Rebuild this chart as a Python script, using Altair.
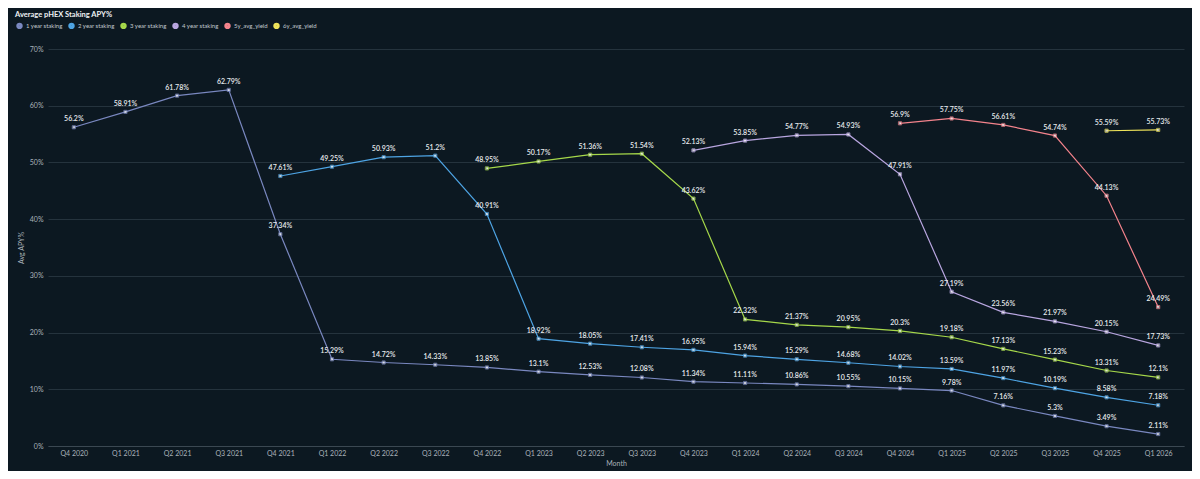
import altair as alt
import pandas as pd

quarters = [
    "Q4 2020", "Q1 2021", "Q2 2021", "Q3 2021", "Q4 2021", "Q1 2022", "Q2 2022",
    "Q3 2022", "Q4 2022", "Q1 2023", "Q2 2023", "Q3 2023", "Q4 2023", "Q1 2024",
    "Q2 2024", "Q3 2024", "Q4 2024", "Q1 2025", "Q2 2025", "Q3 2025", "Q4 2025",
    "Q1 2026",
]

series_names = [
    "1 year staking", "2 year staking", "3 year staking",
    "4 year staking", "5y_avg_yield", "6y_avg_yield",
]
series_colors = ["#7a88c0", "#4ea4e4", "#a6d84a", "#b9a6e0", "#f4838c", "#eee35a"]

# values per quarter, None where the series has no data yet
apy_1y = [56.2, 58.91, 61.78, 62.79, 37.34, 15.29, 14.72, 14.33, 13.85, 13.1, 12.53,
          12.08, 11.34, 11.11, 10.86, 10.55, 10.15, 9.78, 7.16, 5.3, 3.49, 2.11]
apy_2y = [None] * 4 + [47.61, 49.25, 50.93, 51.2, 40.91, 18.92, 18.05, 17.41, 16.95,
                       15.94, 15.29, 14.68, 14.02, 13.59, 11.97, 10.19, 8.58, 7.18]
apy_3y = [None] * 8 + [48.95, 50.17, 51.36, 51.54, 43.62, 22.32, 21.37, 20.95, 20.3,
                       19.18, 17.13, 15.23, 13.31, 12.1]
apy_4y = [None] * 12 + [52.13, 53.85, 54.77, 54.93, 47.91, 27.19, 23.56, 21.97, 20.15, 17.73]
apy_5y = [None] * 16 + [56.9, 57.75, 56.61, 54.74, 44.13, 24.49]
apy_6y = [None] * 20 + [55.59, 55.73]

rows = []
for name, vals in zip(series_names, [apy_1y, apy_2y, apy_3y, apy_4y, apy_5y, apy_6y]):
    for q, v in zip(quarters, vals):
        if v is not None:
            rows.append({"Month": q, "series": name, "apy": v})
df = pd.DataFrame(rows)

BG = "#0c1821"
FONT = "Lato"

scale = alt.Scale(domain=series_names, range=series_colors)
x_enc = alt.X(
    "Month:N", sort=quarters, title="Month",
    scale=alt.Scale(padding=0.5),
    axis=alt.Axis(labelAngle=0, grid=False, ticks=False, labelPadding=3,
                  domainColor="#3b4852", titlePadding=3),
)
y_enc = alt.Y(
    "apy:Q", title="Avg APY%",
    scale=alt.Scale(domain=[0, 70]),
    axis=alt.Axis(values=[0, 10, 20, 30, 40, 50, 60, 70], labelExpr="datum.value + '%'",
                  domain=False, ticks=False, labelPadding=5, titleX=-24,
                  gridColor="#25333d"),
)

base = alt.Chart(df).encode(x=x_enc, y=y_enc)

lines = base.mark_line(strokeWidth=1.2).encode(
    color=alt.Color(
        "series:N", scale=scale, sort=series_names,
        legend=alt.Legend(title=None, orient="none", direction="horizontal",
                          legendX=-32, legendY=-27, symbolType="circle",
                          symbolSize=12, symbolStrokeWidth=3, columnPadding=0,
                          labelOffset=3, labelFontSize=6, labelColor="#c3c9cf",
                          labelFont=FONT, symbolOffset=0),
    ),
    detail="series:N",
)

points = base.mark_point(shape="square", filled=True, fill="white", size=10,
                         strokeWidth=1).encode(
    stroke=alt.Stroke("series:N", scale=scale, legend=None),
)

labels = base.transform_calculate(label="datum.apy + '%'").mark_text(
    dy=-8, fontSize=7, font=FONT, fontWeight=600, color="#e8ebee",
).encode(text="label:N")

chart = (
    alt.layer(lines, points, labels)
    .properties(
        width=1136, height=397,
        padding={"left": 40, "top": 41, "right": 8, "bottom": 25},
        autosize=alt.AutoSizeParams(type="none"),
        background=BG,
        title=alt.TitleParams("Average pHEX Staking APY%", anchor="start", frame="group",
                              dx=-33, fontSize=7.5, font=FONT, fontWeight="bold",
                              color="#eef1f4"),
    )
    .configure_view(stroke=None)
    .configure_axis(labelFont=FONT, titleFont=FONT, labelFontSize=7, titleFontSize=7,
                    labelColor="#aab2ba", titleColor="#aab2ba", titleFontWeight="normal")
)

chart.save("out.html", embed_options={"renderer": "svg", "actions": False})
